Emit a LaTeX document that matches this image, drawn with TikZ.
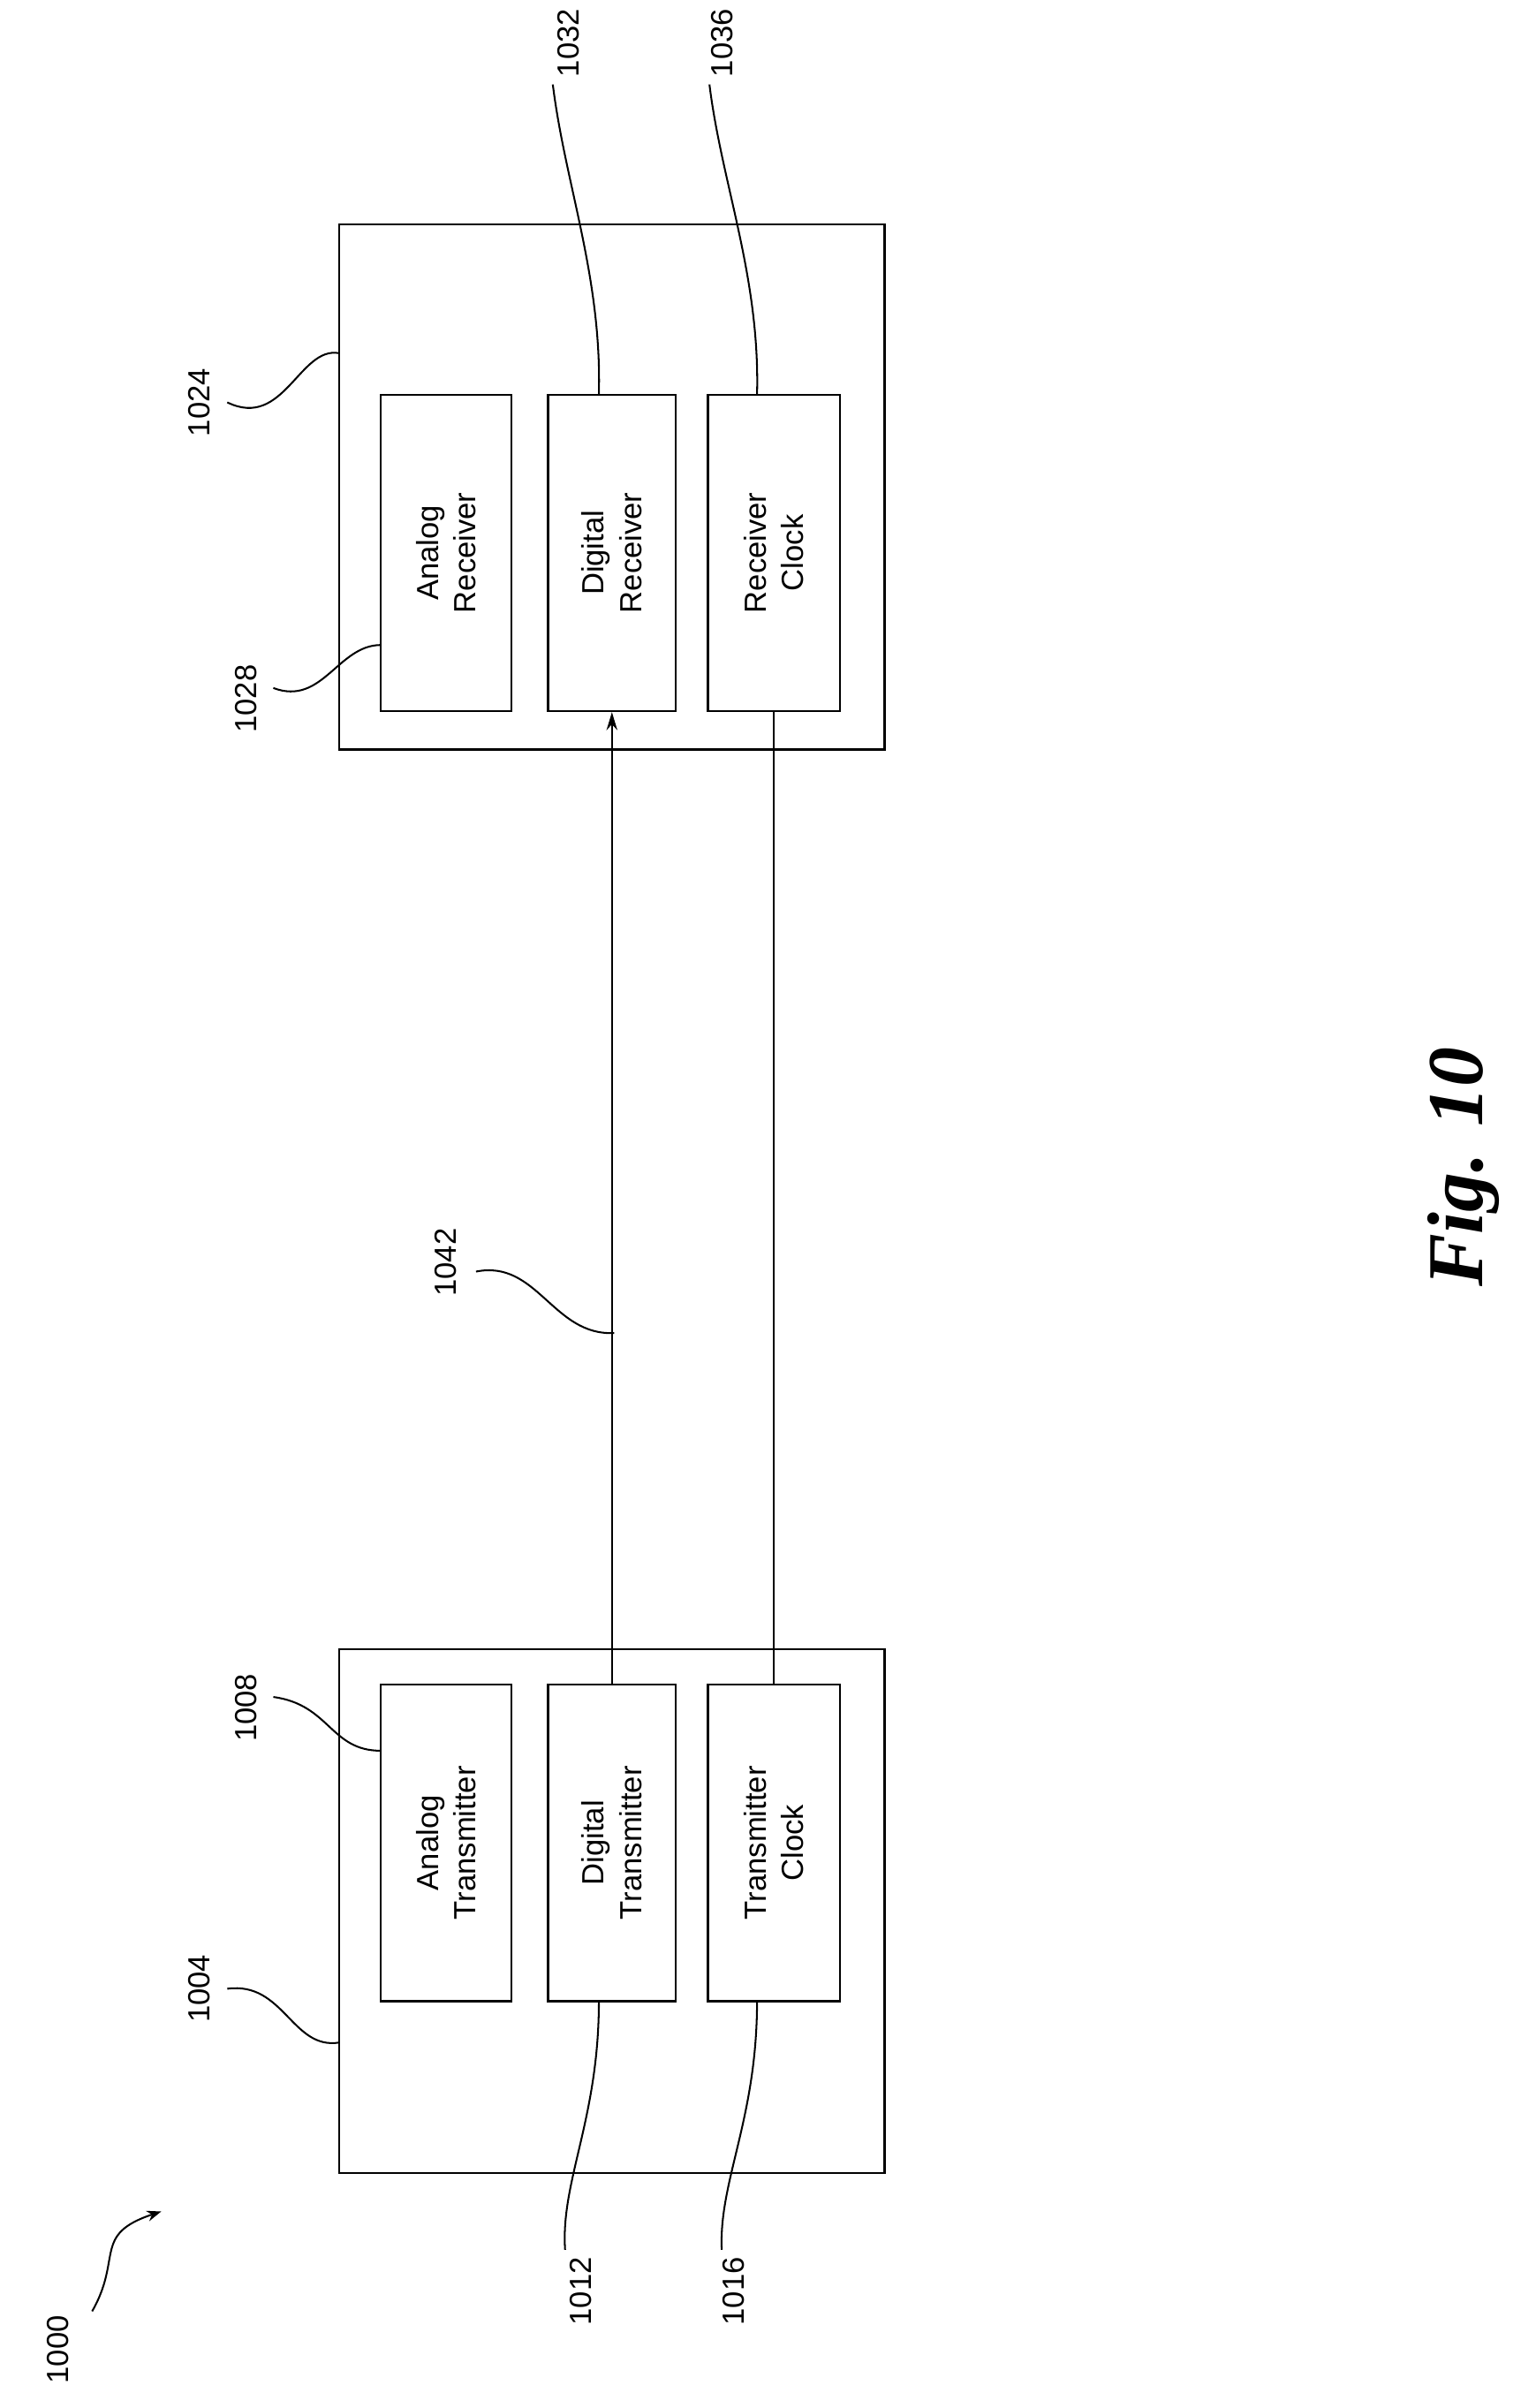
\documentclass[tikz,border=0pt]{standalone}
\usepackage{fontspec}
\setmainfont{Liberation Sans}
\newfontfamily\figfont{Liberation Serif}
\usetikzlibrary{arrows.meta}
\begin{document}
\begin{tikzpicture}[x=0.03cm,y=-0.03cm,line width=1.2pt,
  blk/.style={draw,inner sep=0},
  txt/.style={rotate=90,align=center,font=\fontsize{17}{21}\selectfont},
  lbl/.style={rotate=90,font=\fontsize{17}{20}\selectfont},
  lead/.style={line width=1pt}]
\useasboundingbox (0,0) rectangle (1000,1568);
% receiver side
\draw (221,146) rectangle (576,488); \coordinate (b1024) at (221,230);
\node[blk,minimum width=85*0.03cm,minimum height=206*0.03cm] (ar) at (290.5,360) {};
\node[blk,minimum width=83*0.03cm,minimum height=206*0.03cm] (dr) at (398.5,360) {};
\node[blk,minimum width=86*0.03cm,minimum height=206*0.03cm] (rc) at (504,360) {};
\node[txt] at (ar) {Analog\\Receiver};
\node[txt] at (dr) {Digital\\Receiver};
\node[txt] at (rc) {Receiver\\Clock};
% transmitter side
\draw (221,1074) rectangle (576,1415); \coordinate (b1004) at (221,1330);
\node[blk,minimum width=85*0.03cm,minimum height=206*0.03cm] (at) at (290.5,1200) {};
\node[blk,minimum width=83*0.03cm,minimum height=206*0.03cm] (dt) at (398.5,1200) {};
\node[blk,minimum width=86*0.03cm,minimum height=206*0.03cm] (tc) at (504,1200) {};
\node[txt] at (at) {Analog\\Transmitter};
\node[txt] at (dt) {Digital\\Transmitter};
\node[txt] at (tc) {Transmitter\\Clock};
% links
\draw[-{Stealth[length=10pt,width=6pt]}] (dt.north) -- (dr.south);
\draw (tc.north) -- (rc.south);
% labels
\node[lbl] (l1024) at (130,262) {1024};
\draw[lead] (148,262) .. controls (185,280) and (195,225) .. (b1024);
\node[lbl] (l1028) at (160,455) {1028};
\draw[lead] (178,448) .. controls (210,460) and (220,420) .. (248,420);
\node[lbl] (l1032) at (370,28) {1032};
\draw[lead] (360,55) .. controls (368,120) and (392,180) .. (390,257);
\node[lbl] (l1036) at (470,28) {1036};
\draw[lead] (462,55) .. controls (470,120) and (495,180) .. (493,257);
\node[lbl] (l1042) at (290,822) {1042};
\draw[lead] (310,828) .. controls (350,820) and (360,870) .. (400,868);
\node[lbl] (l1008) at (160,1112) {1008};
\draw[lead] (178,1105) .. controls (215,1110) and (215,1140) .. (248,1140);
\node[lbl] (l1004) at (130,1295) {1004};
\draw[lead] (148,1295) .. controls (185,1290) and (190,1335) .. (b1004);
\node[lbl] (l1012) at (378,1492) {1012};
\draw[lead] (390,1303) .. controls (390,1380) and (365,1420) .. (368,1465);
\node[lbl] (l1016) at (478,1492) {1016};
\draw[lead] (493,1303) .. controls (493,1380) and (468,1420) .. (470,1465);
\node[lbl] (l1000) at (38,1530) {1000};
\draw[lead,-{Stealth[length=8pt,width=6pt]}] (60,1505) .. controls (80,1470) and (60,1455) .. (105,1440);
\node[rotate=90,font=\figfont\bfseries\itshape\fontsize{44}{50}\selectfont] (fig) at (953,760) {Fig. 10};
\end{tikzpicture}
\end{document}
